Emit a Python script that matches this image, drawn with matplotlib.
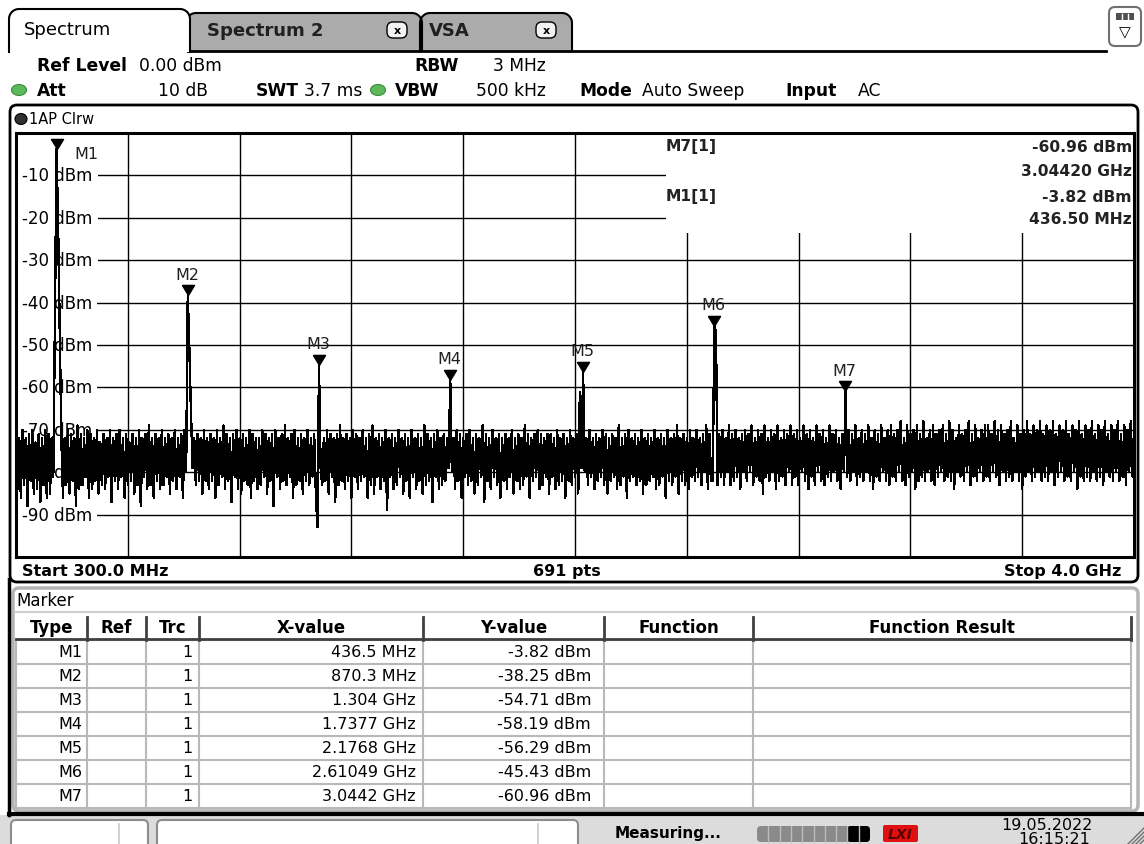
import matplotlib
matplotlib.use('Agg')
import matplotlib.pyplot as plt
from matplotlib.patches import FancyBboxPatch, Rectangle, Ellipse
import numpy as np

W, H = 1144, 845

# sweep settings (from the screen text)
start_mhz = 300.0
stop_mhz = 4000.0
n_points = 691

# trace levels in dBm, 691 sweep points
trace_dbm = [
    -71, -84, -72, -86, -70, -83, -72, -88, -71, -82,
    -70, -85, -73, -84, -71, -87, -72, -83, -70, -86,
    -71, -85, -72, -81, -45, -3.82, -22, -47, -72, -86,
    -72, -83, -70, -85, -71, -82, -72, -88, -69, -84,
    -71, -83, -72, -81, -70, -86, -71, -84, -72, -82,
    -70, -85, -73, -83, -71, -84, -72, -81, -70, -87,
    -72, -82, -71, -84, -70, -81, -72, -86, -71, -83,
    -73, -82, -71, -85, -72, -83, -70, -88, -72, -81,
    -71, -84, -69, -83, -72, -86, -71, -82, -72, -84,
    -70, -83, -72, -81, -71, -85, -72, -82, -70, -84,
    -72, -81, -71, -86, -70, -80, -38.25, -51, -66, -79,
    -72, -83, -71, -82, -72, -85, -70, -82, -72, -84,
    -71, -82, -72, -86, -70, -83, -72, -81, -69, -84,
    -71, -82, -72, -87, -71, -81, -70, -84, -72, -85,
    -71, -82, -72, -83, -70, -86, -71, -82, -72, -84,
    -72, -83, -70, -81, -71, -85, -72, -82, -71, -88,
    -70, -81, -72, -84, -71, -82, -69, -83, -72, -81,
    -71, -86, -70, -83, -72, -82, -71, -85, -72, -82,
    -70, -83, -72, -81, -71, -84, -93, -54.71, -79, -83,
    -72, -82, -70, -85, -71, -81, -72, -87, -71, -83,
    -69, -82, -72, -84, -71, -82, -72, -86, -70, -81,
    -71, -84, -72, -82, -70, -81, -72, -86, -71, -83,
    -69, -85, -72, -81, -71, -84, -72, -82, -70, -89,
    -72, -81, -71, -84, -72, -83, -70, -81, -72, -85,
    -71, -82, -72, -86, -70, -81, -72, -84, -71, -82,
    -72, -85, -69, -83, -71, -82, -72, -87, -71, -81,
    -70, -84, -72, -83, -71, -82, -72, -79, -58.19, -80,
    -72, -84, -70, -82, -71, -86, -72, -81, -71, -83,
    -70, -82, -72, -85, -71, -83, -72, -81, -69, -87,
    -71, -82, -72, -84, -70, -81, -72, -83, -71, -86,
    -72, -82, -71, -84, -72, -81, -70, -85, -72, -82,
    -71, -84, -72, -83, -69, -81, -71, -86, -72, -82,
    -71, -81, -70, -84, -71, -83, -72, -81, -71, -85,
    -71, -81, -72, -84, -70, -83, -72, -82, -71, -86,
    -72, -82, -70, -83, -72, -81, -71, -85, -61, -79,
    -56.29, -80, -72, -83, -70, -81, -72, -84, -71, -82,
    -72, -81, -70, -83, -71, -85, -72, -82, -71, -81,
    -72, -84, -69, -83, -72, -81, -71, -86, -70, -82,
    -72, -81, -71, -83, -72, -82, -70, -85, -72, -83,
    -71, -82, -72, -81, -70, -84, -72, -83, -71, -81,
    -72, -86, -70, -82, -72, -83, -71, -81, -69, -85,
    -72, -82, -71, -83, -72, -84, -70, -81, -72, -82,
    -70, -81, -72, -83, -71, -80, -69, -84, -71, -82,
    -82, -45.43, -47, -83, -71, -81, -70, -83, -72, -80,
    -69, -83, -71, -82, -70, -81, -72, -84, -71, -80,
    -70, -82, -71, -80, -69, -83, -72, -81, -70, -82,
    -71, -85, -69, -81, -72, -82, -70, -80, -71, -84,
    -69, -82, -72, -81, -70, -83, -71, -80, -69, -83,
    -71, -81, -70, -83, -72, -80, -69, -82, -71, -84,
    -70, -81, -72, -83, -69, -80, -71, -82, -70, -83,
    -72, -81, -69, -82, -71, -80, -70, -82, -72, -84,
    -71, -80, -60.96, -81, -70, -82, -71, -80, -69, -83,
    -72, -81, -70, -82, -71, -80, -69, -82, -72, -84,
    -70, -81, -71, -82, -69, -80, -72, -82, -70, -83,
    -69, -81, -71, -82, -70, -80, -68, -82, -72, -83,
    -69, -81, -71, -80, -70, -84, -69, -82, -71, -81,
    -68, -82, -72, -80, -70, -82, -69, -83, -71, -81,
    -70, -80, -69, -82, -71, -81, -68, -82, -70, -84,
    -72, -80, -69, -81, -71, -82, -70, -80, -68, -83,
    -71, -81, -69, -82, -72, -80, -70, -82, -69, -81,
    -69, -82, -71, -80, -68, -81, -70, -83, -69, -80,
    -71, -82, -70, -81, -68, -82, -72, -80, -69, -82,
    -71, -84, -70, -81, -68, -80, -71, -82, -69, -81,
    -70, -80, -68, -82, -71, -81, -69, -82, -70, -80,
    -68, -83, -71, -81, -69, -80, -70, -82, -68, -81,
    -71, -82, -69, -80, -70, -84, -68, -81, -71, -82,
    -69, -81, -70, -82, -68, -80, -71, -82, -69, -81,
    -70, -83, -68, -80, -71, -81, -69, -82, -70, -80,
    -68, -82, -71, -81, -69, -83, -70, -80, -68, -81,
    -70,
]

# markers
marker_names = ["M1", "M2", "M3", "M4", "M5", "M6", "M7"]
marker_freq_mhz = [436.5, 870.3, 1304.0, 1737.7, 2176.8, 2610.49, 3044.2]
marker_dbm = [-3.82, -38.25, -54.71, -58.19, -56.29, -45.43, -60.96]
marker_trc = ["1", "1", "1", "1", "1", "1", "1"]
marker_x_text = ["436.5 MHz", "870.3 MHz", "1.304 GHz", "1.7377 GHz",
                 "2.1768 GHz", "2.61049 GHz", "3.0442 GHz"]
marker_y_text = ["-3.82 dBm", "-38.25 dBm", "-54.71 dBm", "-58.19 dBm",
                 "-56.29 dBm", "-45.43 dBm", "-60.96 dBm"]

table_headers = ["Type", "Ref", "Trc", "X-value", "Y-value", "Function", "Function Result"]
y_levels = [-10, -20, -30, -40, -50, -60, -70, -80, -90]

plt.rcParams['font.family'] = ['DejaVu Sans']
FS = 11.5

fig = plt.figure(figsize=(W / 100, H / 100), dpi=100)

# background layer in screen pixels (y down)
bg = fig.add_axes([0, 0, 1, 1], zorder=0)
bg.set_xlim(0, W)
bg.set_ylim(H, 0)
bg.axis('off')


def rbox(ax_, x0, y0, x1, y1, r=0, fc='white', ec='black', lw=1.0, z=1):
    if r:
        p = FancyBboxPatch((x0, y0), x1 - x0, y1 - y0,
                           boxstyle=f"round,pad=0,rounding_size={r}",
                           fc=fc, ec=ec, lw=lw, zorder=z)
    else:
        p = Rectangle((x0, y0), x1 - x0, y1 - y0, fc=fc, ec=ec, lw=lw, zorder=z)
    ax_.add_patch(p)


def txt(ax_, x, y, s, size=FS, weight='normal', ha='left', color='black', z=5, va='center', **kw):
    ax_.text(x, y, s, fontsize=size, fontweight=weight, ha=ha, va=va,
             color=color, zorder=z, **kw)


def tab_shape(x0, x1, ytop, ybot, r):
    t1 = np.linspace(np.pi, 1.5 * np.pi, 10)
    t2 = np.linspace(1.5 * np.pi, 2 * np.pi, 10)
    xs = [x0] + list(x0 + r + r * np.cos(t1)) + list(x1 - r + r * np.cos(t2)) + [x1]
    ys = [ybot] + list(ytop + r + r * np.sin(t1)) + list(ytop + r + r * np.sin(t2)) + [ybot]
    return xs, ys


# ---- tabs ----
for (x0, x1, label, xclose) in [(420, 572, "VSA", 546), (186, 422, "Spectrum 2", 397)]:
    xs, ys = tab_shape(x0, x1, 14, 52, 10)
    bg.fill(xs, ys, fc='#ababab', ec='none', zorder=1)
    bg.plot(xs, ys, color='black', lw=1.5, zorder=2)
    txt(bg, x0 + (21 if label != "VSA" else 9), 31, label, size=13, weight='bold', color='#202020')
    rbox(bg, xclose - 10, 23, xclose + 10, 39, r=6, fc='#f2f2f2', ec='black', lw=1, z=3)
    txt(bg, xclose, 31, "x", size=8, weight='bold', ha='center', z=4)

bg.plot([188, 1106], [52, 52], color='black', lw=2, zorder=2)
xs, ys = tab_shape(9, 190, 10, 53, 10)
bg.fill(xs, ys, fc='white', ec='none', zorder=3)
bg.plot(xs, ys, color='black', lw=1.5, zorder=4)
txt(bg, 24, 30, "Spectrum", size=13, z=5)

# top right menu icon
rbox(bg, 1109, 8, 1141, 47, r=6, fc='white', ec='#707070', lw=1.5, z=3)
rbox(bg, 1116, 14, 1134, 21, fc='#505050', ec='none', z=4)
for xd in (1122, 1128):
    bg.plot([xd, xd], [15, 20], color='white', lw=1, zorder=5)
txt(bg, 1125, 33, "\u25bd", size=11, ha='center', z=5)

# ---- settings header ----
HS = 12.3
txt(bg, 37, 66, "Ref Level", size=HS, weight='bold')
txt(bg, 139, 66, "0.00 dBm", size=HS)
txt(bg, 414, 66, "RBW", size=HS, weight='bold')
txt(bg, 546, 66, "3 MHz", size=HS, ha='right')

bg.add_patch(Ellipse((19, 91), 15, 11, fc='#5cb85c', ec='#3d8b3d', lw=0.8, zorder=3))
txt(bg, 37, 91, "Att", size=HS, weight='bold')
txt(bg, 208, 91, "10 dB", size=HS, ha='right')
txt(bg, 256, 91, "SWT", size=HS, weight='bold')
txt(bg, 304, 91, "3.7 ms", size=HS)
bg.add_patch(Ellipse((378, 91), 15, 11, fc='#5cb85c', ec='#3d8b3d', lw=0.8, zorder=3))
txt(bg, 395, 91, "VBW", size=HS, weight='bold')
txt(bg, 546, 91, "500 kHz", size=HS, ha='right')
txt(bg, 579, 91, "Mode", size=HS, weight='bold')
txt(bg, 642, 91, "Auto Sweep", size=HS)
txt(bg, 785, 91, "Input", size=HS, weight='bold')
txt(bg, 858, 91, "AC", size=HS)

# ---- diagram frame ----
rbox(bg, 10, 106, 1138, 583, r=7, fc='white', ec='black', lw=2, z=1)
bg.add_patch(Ellipse((21, 120), 12, 11, fc='#303030', ec='black', lw=0.8, zorder=3))
txt(bg, 29, 120, "1AP Clrw", size=10.5)
txt(bg, 22, 572, "Start 300.0 MHz", weight='bold')
txt(bg, 567, 572, f"{n_points} pts", weight='bold', ha='center')
txt(bg, 1121, 572, "Stop 4.0 GHz", weight='bold', ha='right')

# ---- spectrum diagram ----
ax = fig.add_axes([16 / W, 1 - 558 / H, 1118 / W, 424 / H], zorder=1)
freq = np.linspace(start_mhz, stop_mhz, len(trace_dbm))
ax.plot(freq, trace_dbm, color='black', lw=1.0, antialiased=False, zorder=3)
ax.set_xlim(start_mhz, stop_mhz)
ax.set_ylim(-100, 0)
ax.set_xticks([start_mhz + k * (stop_mhz - start_mhz) / 10 for k in range(11)])
ax.set_yticks(list(range(-100, 1, 10)))
ax.tick_params(length=0, labelbottom=False, labelleft=False)
ax.grid(True, color='black', lw=1.0)
for sp in ax.spines.values():
    sp.set_linewidth(2.2)

for lvl in y_levels:
    ax.text(0.0055, lvl, f"{lvl} dBm", transform=ax.get_yaxis_transform(),
            fontsize=12, ha='left', va='center', zorder=2.5,
            bbox=dict(boxstyle='square,pad=0.3', fc='white', ec='none'))

# marker result area hides the grid in the upper right
ax.add_patch(Rectangle((0.5814, 0.764), 0.4186, 0.236, transform=ax.transAxes,
                       fc='white', ec='none', zorder=2))

tri = [(-0.6, 1.0), (0.6, 1.0), (0.0, 0.0), (-0.6, 1.0)]
ax.plot(marker_freq_mhz, marker_dbm, ls='none', marker=tri, ms=14.5,
        color='black', zorder=5)
for i, name in enumerate(marker_names):
    off = (29, -4) if i == 0 else (-1, 21)
    ax.annotate(name, (marker_freq_mhz[i], marker_dbm[i]), xytext=off,
                textcoords='offset pixels', ha='center', va='center',
                fontsize=11.5, color='#202020', zorder=6)

# overlay for marker results text
ov = fig.add_axes([0, 0, 1, 1], zorder=3)
ov.set_xlim(0, W)
ov.set_ylim(H, 0)
ov.axis('off')
ov.patch.set_alpha(0)
IS = 11.2
txt(ov, 666, 147, "M7[1]", size=IS, weight='bold', color='#222222')
txt(ov, 1132, 147, marker_y_text[6], size=IS, weight='bold', ha='right', color='#222222')
txt(ov, 1132, 172, "3.04420 GHz", size=IS, weight='bold', ha='right', color='#222222')
txt(ov, 666, 197, "M1[1]", size=IS, weight='bold', color='#222222')
txt(ov, 1132, 197, marker_y_text[0], size=IS, weight='bold', ha='right', color='#222222')
txt(ov, 1132, 220, "436.50 MHz", size=IS, weight='bold', ha='right', color='#222222')

# ---- marker table panel ----
bg.plot([9, 9], [580, 816], color='black', lw=2.5, zorder=2)
rbox(bg, 13, 589, 1138, 812, r=6, fc='white', ec='#b4b4b4', lw=2.5, z=1)
txt(bg, 16, 601, "Marker", size=12)
bg.plot([15, 1136], [613, 613], color='#d0d0d0', lw=1.5, zorder=2)

cols = [16, 87, 146, 199, 423, 604, 753, 1131]
row_top = 641
row_h = 24
n_rows = len(marker_names)
for k in range(n_rows + 1):
    yl = row_top + k * row_h
    bg.plot([cols[0], cols[-1]], [yl, yl], color='#b8b8b8', lw=1.5, zorder=2)
for xc in cols:
    bg.plot([xc, xc], [row_top, row_top + n_rows * row_h], color='#b8b8b8', lw=1.5, zorder=2)
for xc in cols[1:]:
    bg.plot([xc, xc], [618, row_top], color='#404040', lw=2, zorder=3)
bg.plot([cols[0], cols[-1]], [640, 640], color='#404040', lw=2, zorder=3)
for j, head in enumerate(table_headers):
    txt(bg, (cols[j] + cols[j + 1]) / 2, 628, head, size=12, weight='bold', ha='center')
for i in range(n_rows):
    yc = row_top + row_h * i + row_h / 2
    txt(bg, 82, yc, marker_names[i], ha='right')
    txt(bg, 193, yc, marker_trc[i], ha='right')
    txt(bg, 416, yc, marker_x_text[i], ha='right')
    txt(bg, 591, yc, marker_y_text[i], ha='right')

# ---- status bar ----
rbox(bg, 0, 816, W, H + 2, fc='#dcdcdc', ec='none', z=1)
bg.plot([9, W], [815, 815], color='black', lw=3, zorder=3)
rbox(bg, 11, 821, 148, 852, r=5, fc='white', ec='#8c8c8c', lw=1.5, z=2)
bg.plot([119, 119], [825, 845], color='#c8c8c8', lw=1.2, zorder=3)
rbox(bg, 157, 821, 578, 852, r=5, fc='white', ec='#8c8c8c', lw=1.5, z=2)
bg.plot([538, 538], [825, 845], color='#c8c8c8', lw=1.2, zorder=3)
txt(bg, 615, 834, "Measuring...", size=11, weight='bold')
rbox(bg, 757, 827, 870, 843, r=4, fc='#8a8a8a', ec='none', z=2)
rbox(bg, 847, 827, 870, 843, r=4, fc='black', ec='none', z=3)
for k in range(1, 10):
    xs_ = 757 + k * 11.3
    bg.plot([xs_, xs_], [827, 843], color='#bdbdbd', lw=1, zorder=4)
rbox(bg, 883, 826, 918, 843, r=2, fc='#e01010', ec='none', z=2)
txt(bg, 900, 835, "LXI", size=10, weight='bold', ha='center', color='#5a0000',
    z=3, style='italic')
txt(bg, 1093, 830, "19.05.2022", size=11.5, ha='right', va='baseline')
txt(bg, 1090, 844, "16:15:21", size=11.5, ha='right', va='baseline')
for k in range(4):
    bg.plot([1128 + 4 * k, 1144], [845, 829 + 4 * k], color='#707070', lw=1, zorder=3)

fig.savefig('out.png', dpi=100)
